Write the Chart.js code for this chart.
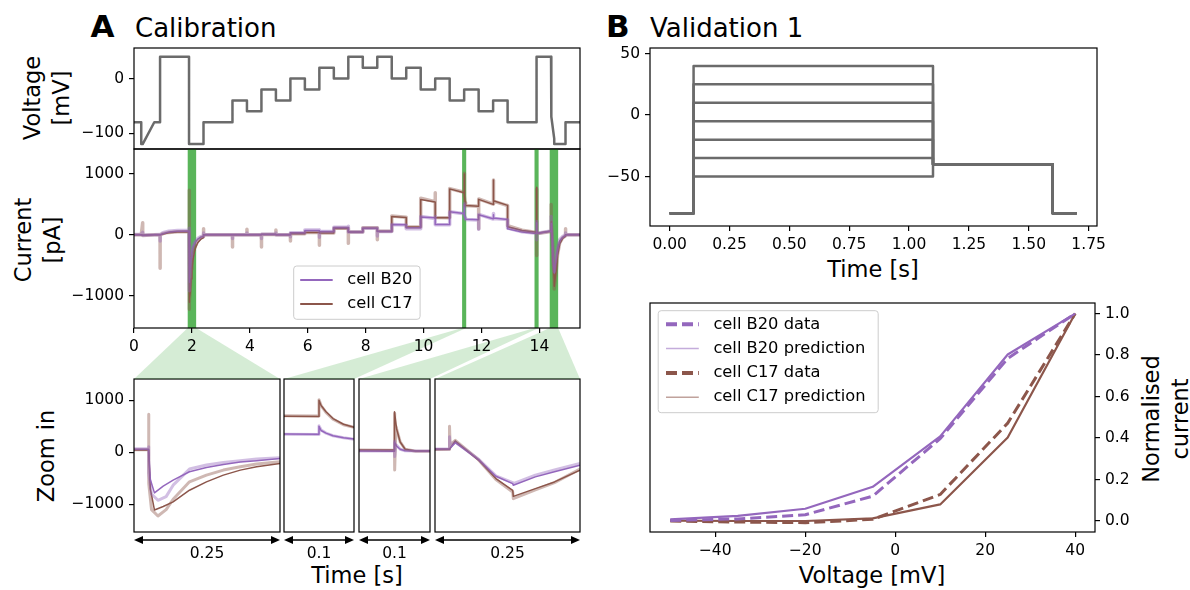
<!DOCTYPE html>
<html><head><meta charset="utf-8">
<script src="https://cdn.jsdelivr.net/npm/chart.js@4.4.1/dist/chart.umd.min.js"></script>
<style>
html,body{margin:0;padding:0;background:#fff;}
body{width:1190px;height:590px;overflow:hidden;position:relative;font-family:'DejaVu Sans',sans-serif;color:#000;}
canvas{position:absolute;}
.t{position:absolute;white-space:nowrap;line-height:1;}
.r{position:absolute;white-space:nowrap;text-align:center;font-size:22.5px;line-height:29px;transform:translate(-50%,-50%) rotate(-90deg);}
.c{position:absolute;white-space:nowrap;font-size:22.5px;line-height:1;transform:translate(-50%,-50%);}
</style></head><body>
<div class="t" style="left:90.5px;top:10.5px;font-size:31px;font-weight:bold">A</div>
<div class="t" style="left:135px;top:15.3px;font-size:26px">Calibration</div>
<div class="t" style="left:606px;top:10.5px;font-size:31px;font-weight:bold">B</div>
<div class="t" style="left:650px;top:15.3px;font-size:26px">Validation 1</div>
<div class="r" style="left:46.5px;top:98px">Voltage<br>[mV]</div>
<div class="r" style="left:37.5px;top:240px">Current<br>[pA]</div>
<div class="r" style="left:46px;top:456px">Zoom in</div>
<div class="c" style="left:357px;top:575px">Time [s]</div>
<div class="c" style="left:873px;top:269px">Time [s]</div>
<div class="c" style="left:872px;top:575px">Voltage [mV]</div>
<div class="r" style="left:1166px;top:419px">Normalised<br>current</div>
<script>
// ---------------- DATA ----------------
// Calibration (staircase) voltage protocol
const protoT = [0,0.25,0.25,0.3,0.7,0.9,0.9,1.9,1.9,2.4,2.4,3.4,3.4,3.9,3.9,4.4,4.4,4.9,4.9,5.4,5.4,5.9,5.9,6.4,6.4,6.9,6.9,7.4,7.4,7.9,7.9,8.4,8.4,8.9,8.9,9.4,9.4,9.9,9.9,10.4,10.4,10.9,10.9,11.4,11.4,11.9,11.9,12.4,12.4,12.9,12.9,13.9,13.9,14.4,14.41,14.51,14.51,14.9,14.9,15.4];
const protoV = [-80,-80,-120,-120,-80,-80,40,40,-120,-120,-80,-80,-40,-40,-60,-60,-20,-20,-40,-40,0,0,-20,-20,20,20,0,0,40,40,20,20,40,40,0,0,20,20,-20,-20,0,0,-40,-40,-20,-20,-60,-60,-40,-40,-80,-80,40,40,-70,-110,-120,-120,-80,-80];

// Simulated currents (pA)
const simT = [0,0.25,0.3,0.7,0.9,1.0,1.2,1.5,1.9,1.903,1.91,1.925,1.942,1.97,1.999,2.028,2.057,2.085,2.125,2.2,2.3,2.4,2.4,3.4,3.9,4.4,4.4,4.9,4.9,5.4,5.4,5.9,5.9,6.4,6.4,6.9,6.9,7.4,7.4,7.9,7.9,8.4,8.4,8.9,8.9,9.4,9.4,9.9,9.9,10.4,10.4,10.9,10.9,11.4,11.4,11.403,11.41,11.42,11.435,11.45,11.9,11.9,12.4,12.4,12.41,12.43,12.9,12.9,13.4,13.9,13.9,13.903,13.908,13.915,13.93,14.4,14.41,14.45,14.48,14.509,14.51,14.548,14.581,14.625,14.7,14.8,14.9,14.9,15.4];
const simC17 = [0,0,-5,0,0,15,35,45,48,-700,-1106,-1040,-951,-727,-566,-437,-341,-276,-212,-130,-75,-45,0,0,0,0,5,5,0,0,16,16,40,40,30,30,105,105,45,45,110,110,60,60,300,285,130,130,580,540,280,280,755,690,1000,900,780,650,540,484,470,583,500,900,650,560,484,132,70,44,780,450,200,60,25,58,219,-148,-503,-729,-845,-697,-568,-342,-150,-60,-20,0,0];
const simB20 = [0,0,-5,0,0,20,45,58,62,-520,-778,-650,-534,-373,-289,-231,-186,-161,-116,-70,-40,-25,0,0,0,0,10,10,0,0,33,33,70,70,55,55,120,120,45,45,110,110,55,55,170,165,115,115,295,280,170,170,380,350,500,420,370,320,280,255,250,330,264,330,290,275,253,99,45,22,200,120,60,30,25,65,187,-140,-458,-600,-632,-471,-374,-245,-100,-40,-10,0,0];

// Recorded currents (pA)
const dataT = [0,0.25,0.3,0.3,0.7,0.9,0.9,0.905,1.0,1.2,1.5,1.9,1.9,1.9005,1.905,1.916,1.93,1.942,1.97,1.999,2.028,2.057,2.085,2.125,2.2,2.3,2.4,2.4,2.405,3.4,3.4,3.405,3.9,3.9,3.905,4.4,4.4,4.405,4.9,4.9,4.905,5.4,5.4,5.405,5.9,5.9,6.4,6.4,6.405,6.9,6.9,7.4,7.4,7.405,7.9,7.9,8.4,8.4,8.405,8.9,8.9,9.4,9.4,9.9,9.9,10.4,10.4,10.405,10.9,10.9,11.4,11.4,11.403,11.41,11.42,11.435,11.45,11.9,11.9,11.905,12.4,12.4,12.41,12.43,12.9,12.9,13.4,13.9,13.9,13.9005,13.902,13.908,13.915,13.93,14.4,14.4,14.401,14.41,14.45,14.48,14.509,14.51,14.548,14.581,14.625,14.7,14.8,14.9,14.9,14.905,15.4];
const dataB20 = [5,5,40,-5,0,5,-100,0,35,60,70,70,110,-400,-800,-920,-850,-630,-321,-244,-193,-161,-129,-103,-60,-30,-20,30,0,0,-60,0,0,30,0,5,-60,10,10,30,0,0,-30,33,33,80,80,-40,55,55,125,125,140,45,45,110,110,-20,55,55,170,160,100,100,300,270,300,165,165,380,345,510,430,370,320,280,252,245,90,335,260,350,290,270,250,110,50,25,220,-80,150,60,30,25,65,300,120,200,-130,-450,-580,-600,-440,-340,-213,-80,-30,-5,30,0,0];
const dataC17 = [0,0,200,-10,0,0,-550,0,20,40,50,50,733,-600,-1100,-1222,-1100,-900,-566,-437,-340,-276,-225,-180,-100,-50,-30,100,0,0,-200,0,0,90,0,0,-200,5,5,80,0,0,-100,16,16,40,40,-170,30,30,110,110,-140,45,45,115,115,-80,60,60,310,290,130,130,600,545,690,285,280,760,700,1010,900,770,640,530,480,470,100,590,505,900,650,555,480,150,75,40,750,-340,500,200,60,20,55,500,150,230,-140,-520,-760,-890,-720,-580,-320,-130,-50,-15,100,0,0];

// Zoomed windows (s)
const zoomWindows = [[1.875,2.125],[11.35,11.45],[13.85,13.95],[14.375,14.625]];

// Validation 1 protocol
const valT = [0,0.1,0.1,1.1,1.1,1.6,1.6,1.7];
const valLevels = [40,25,10,-5,-20,-35,-50];
const valHold = -80, valPost = -40;

// I-V (normalised current)
const ivV = [-50,-35,-20,-5,10,25,40];
const ivB20Data = [0.003,0.01,0.03,0.12,0.397,0.784,1.0];
const ivB20Pred = [0.008,0.025,0.059,0.165,0.408,0.803,1.0];
const ivC17Data = [0.0,-0.005,-0.008,0.008,0.128,0.472,1.0];
const ivC17Pred = [0.002,0.0,0.0,0.013,0.08,0.403,1.0];

// Tick labels
const voltTicks = [-100,0];
const currentTicks = [-1000,0,1000];
const timeTicks = [0,2,4,6,8,10,12,14];
const valTimeTicks = [0,0.25,0.5,0.75,1.0,1.25,1.5,1.75];
const valVoltTicks = [-50,0,50];
const ivVoltTicks = [-40,-20,0,20,40];
const ivCurTicks = [0,0.2,0.4,0.6,0.8,1.0];

// ---------------- STYLE ----------------
const PURPLE = '#9467bd', BROWN = '#8c564b';
const PURPLE_L = 'rgba(148,103,189,0.42)', BROWN_L = 'rgba(140,86,75,0.42)';
const GRAY = '#6b6b6b';
const FONT = "'DejaVu Sans', sans-serif";
Chart.defaults.font.family = FONT;
Chart.defaults.font.size = 15.5;
Chart.defaults.color = '#000';

function pts(xs, ys){ return xs.map((x,i)=>({x:x, y:ys[i]})); }
function fmtNum(v){ return (v<0?'\u2212':'') + Math.abs(v); }

function line(label, xs, ys, color, width, dash){
  return {label, data: pts(xs, ys), showLine:true, borderColor:color, backgroundColor:color,
    borderWidth:width, borderDash:dash||[], pointRadius:0, pointHoverRadius:0, fill:false,
    tension:0, clip:0, borderJoinStyle:'round'};
}
function linAxis(pos, min, max, vals, fmt){
  return {type:'linear', position:pos, min, max, bounds:'data',
    afterBuildTicks: s => { s.ticks = vals.map(v=>({value:v})); },
    grid:{display:true, drawOnChartArea:false, drawTicks:true, tickLength:5, tickWidth:1.2, tickColor:'#000', color:'#000', lineWidth:1.2},
    border:{display:false},
    ticks:{color:'#000', padding:5, autoSkip:false, maxRotation:0, minRotation:0, callback: v => fmt(v), font:{size:15.5, family:FONT}}};
}
function hidAxis(pos, min, max){ return {type:'linear', position:pos, min, max, display:false}; }

const framePlugin = {id:'frame', afterDatasetsDraw(chart){
  const a = chart.chartArea, ctx = chart.ctx;
  ctx.save(); ctx.strokeStyle = '#000'; ctx.lineWidth = 1.2;
  ctx.strokeRect(a.left, a.top, a.right-a.left, a.bottom-a.top); ctx.restore();
}};

function legendPlugin(o){ return {id:'boxLegend', afterDraw(chart){
  const a = chart.chartArea, ctx = chart.ctx, x0 = a.left + o.x, y0 = a.top + o.y, r = 3;
  ctx.save();
  ctx.beginPath();
  ctx.moveTo(x0+r, y0); ctx.lineTo(x0+o.w-r, y0); ctx.quadraticCurveTo(x0+o.w, y0, x0+o.w, y0+r);
  ctx.lineTo(x0+o.w, y0+o.h-r); ctx.quadraticCurveTo(x0+o.w, y0+o.h, x0+o.w-r, y0+o.h);
  ctx.lineTo(x0+r, y0+o.h); ctx.quadraticCurveTo(x0, y0+o.h, x0, y0+o.h-r);
  ctx.lineTo(x0, y0+r); ctx.quadraticCurveTo(x0, y0, x0+r, y0); ctx.closePath();
  ctx.fillStyle = 'rgba(255,255,255,0.8)'; ctx.fill();
  ctx.strokeStyle = '#cccccc'; ctx.lineWidth = 1; ctx.stroke();
  o.items.forEach((it, i) => {
    const ds = chart.data.datasets[it.ds], y = y0 + o.first + i*o.gap;
    ctx.beginPath(); ctx.strokeStyle = it.color || ds.borderColor; ctx.lineWidth = it.width || ds.borderWidth;
    ctx.setLineDash(ds.borderDash || []); ctx.moveTo(x0+o.lx0, y); ctx.lineTo(x0+o.lx1, y); ctx.stroke();
    ctx.setLineDash([]);
    ctx.fillStyle = '#000'; ctx.font = o.font + 'px ' + FONT; ctx.textAlign = 'left'; ctx.textBaseline = 'middle';
    ctx.fillText(ds.label, x0+o.tx, y);
  });
  ctx.restore();
}}; }

function arrowPlugin(win){ return {id:'zoomArrow', afterDraw(chart){
  const a = chart.chartArea, ctx = chart.ctx, y = a.bottom + 8, x0 = a.left, x1 = a.right, hl = 9, hw = 4;
  ctx.save(); ctx.strokeStyle = '#000'; ctx.fillStyle = '#000'; ctx.lineWidth = 1.5;
  ctx.beginPath(); ctx.moveTo(x0+hl-1, y); ctx.lineTo(x1-hl+1, y); ctx.stroke();
  ctx.beginPath(); ctx.moveTo(x0, y); ctx.lineTo(x0+hl, y-hw); ctx.lineTo(x0+hl, y+hw); ctx.closePath(); ctx.fill();
  ctx.beginPath(); ctx.moveTo(x1, y); ctx.lineTo(x1-hl, y-hw); ctx.lineTo(x1-hl, y+hw); ctx.closePath(); ctx.fill();
  ctx.font = '15.5px ' + FONT; ctx.textAlign = 'center'; ctx.textBaseline = 'middle';
  ctx.fillText(String(+(win[1]-win[0]).toFixed(3)), (x0+x1)/2, a.bottom + 21.5);
  ctx.restore();
}}; }

function bandsPlugin(zooms){ return {id:'bands',
  beforeDraw(chart){
    const ctx = chart.ctx, a = chart.chartArea, xs = chart.scales.x, c = chart.canvas;
    ctx.save(); ctx.fillStyle = 'rgba(44,160,44,0.2)';
    zoomWindows.forEach((w, i) => {
      const z = zooms[i], dx = z.canvas._ox - c._ox, dy = z.canvas._oy - c._oy;
      const bx0 = xs.getPixelForValue(w[0]) - 0.6, bx1 = xs.getPixelForValue(w[1]) + 0.6;
      ctx.beginPath(); ctx.moveTo(bx0, a.bottom); ctx.lineTo(bx1, a.bottom);
      ctx.lineTo(z.chartArea.right + dx, z.chartArea.top + dy); ctx.lineTo(z.chartArea.left + dx, z.chartArea.top + dy);
      ctx.closePath(); ctx.fill();
    });
    ctx.restore();
  },
  beforeDatasetsDraw(chart){
    const ctx = chart.ctx, a = chart.chartArea, xs = chart.scales.x;
    ctx.save(); ctx.fillStyle = 'rgba(44,160,44,0.78)';
    zoomWindows.forEach(w => {
      const bx0 = xs.getPixelForValue(w[0]) - 0.6, bx1 = xs.getPixelForValue(w[1]) + 0.6;
      ctx.fillRect(bx0, a.top, bx1-bx0, a.bottom-a.top);
    });
    ctx.restore();
  }
}; }

function build(box, pad, datasets, scales, plugins){
  const c = document.createElement('canvas');
  const w = Math.round(box.R-box.L+pad.l+pad.r), h = Math.round(box.B-box.T+pad.t+pad.b);
  c.width = w; c.height = h; c.style.width = w+'px'; c.style.height = h+'px';
  c._ox = box.L - pad.l; c._oy = box.T - pad.t;
  c.style.left = c._ox + 'px'; c.style.top = c._oy + 'px';
  document.body.appendChild(c);
  const lp = {left:pad.l, right:pad.r, top:pad.t, bottom:pad.b};
  const key = {left:'l', right:'r', top:'t', bottom:'b'};
  Object.values(scales).forEach(s => {
    if (s.display === false) return;
    lp[s.position] = 0;
    const size = pad[key[s.position]];
    s.afterFit = sc => { if (sc.isHorizontal()) sc.height = size; else sc.width = size;
      sc.paddingLeft = 0; sc.paddingRight = 0; sc.paddingTop = 0; sc.paddingBottom = 0; };
  });
  return new Chart(c, {type:'scatter', data:{datasets},
    options:{responsive:false, maintainAspectRatio:false, animation:false, events:[],
      layout:{padding:lp}, plugins:{legend:{display:false}, tooltip:{enabled:false}}, scales},
    plugins:[framePlugin].concat(plugins||[])});
}

function currentDatasets(wData, wSim){
  return [
    line('cell B20 data', dataT, dataB20, PURPLE_L, wData),
    line('cell C17 data', dataT, dataC17, BROWN_L, wData),
    line('cell B20', simT, simB20, PURPLE, wSim),
    line('cell C17', simT, simC17, BROWN, wSim)
  ];
}

// ---------------- CHARTS ----------------
// A: voltage protocol
build({L:134,T:48,R:580,B:149}, {l:110,t:10,r:12,b:2},
  [line('Voltage', protoT, protoV, GRAY, 2.5)],
  {x: hidAxis('bottom', 0, 15.4), y: linAxis('left', -129, 56, voltTicks, fmtNum)});

// A: zoom-in panels
const zBoxes = [{L:134,T:379,R:280,B:532},{L:284,T:379,R:354,B:532},{L:359,T:379,R:430,B:532},{L:435,T:379,R:580,B:532}];
const zooms = zBoxes.map((b, i) => build(b, {l: i===0 ? 110 : 3, t:3, r:3, b:36},
  currentDatasets(3, 1.5),
  {x: hidAxis('bottom', zoomWindows[i][0], zoomWindows[i][1]),
   y: i===0 ? linAxis('left', -1530, 1410, currentTicks, fmtNum) : hidAxis('left', -1530, 1410)},
  [arrowPlugin(zoomWindows[i])]));

// A: current
build({L:134,T:149,R:580,B:328}, {l:110,t:12,r:12,b:51},
  currentDatasets(3.5, 1.5),
  {x: linAxis('bottom', 0, 15.4, timeTicks, fmtNum), y: linAxis('left', -1530, 1410, currentTicks, fmtNum)},
  [bandsPlugin(zooms), legendPlugin({x:159.7, y:117, w:126.4, h:53.3, first:14, gap:24, lx0:6.5, lx1:39, tx:53.6, font:16.3,
    items:[{ds:2, width:1.8},{ds:3, width:1.8}]})]);

// B: validation protocol
build({L:650,T:48,R:1097,B:226}, {l:60,t:12,r:20,b:32},
  valLevels.map(v => line(v + ' mV', valT, [valHold,valHold,v,v,valPost,valPost,valHold,valHold], GRAY, 2.5)),
  {x: linAxis('bottom', -0.082, 1.785, valTimeTicks, v => v.toFixed(2)), y: linAxis('left', -90.3, 54.6, valVoltTicks, fmtNum)});

// B: I-V
build({L:650,T:303,R:1095,B:532}, {l:20,t:10,r:60,b:32},
  [line('cell B20 data', ivV, ivB20Data, PURPLE, 3, [11,5]),
   line('cell B20 prediction', ivV, ivB20Pred, PURPLE, 2.2),
   line('cell C17 data', ivV, ivC17Data, BROWN, 3, [11,5]),
   line('cell C17 prediction', ivV, ivC17Pred, BROWN, 2.2)],
  {x: linAxis('bottom', -54.5, 44.4, ivVoltTicks, fmtNum), y: linAxis('right', -0.053, 1.051, ivCurTicks, v => v.toFixed(1))},
  [legendPlugin({x:8.2, y:7.7, w:220, h:102, first:13.6, gap:24.3, lx0:7.8, lx1:40.6, tx:55.2, font:16.3,
    items:[{ds:0, width:4},{ds:1, width:1.5, color:'rgba(148,103,189,0.55)'},{ds:2, width:4},{ds:3, width:1.5, color:'rgba(140,86,75,0.55)'}]})]);
</script>
</body></html>
